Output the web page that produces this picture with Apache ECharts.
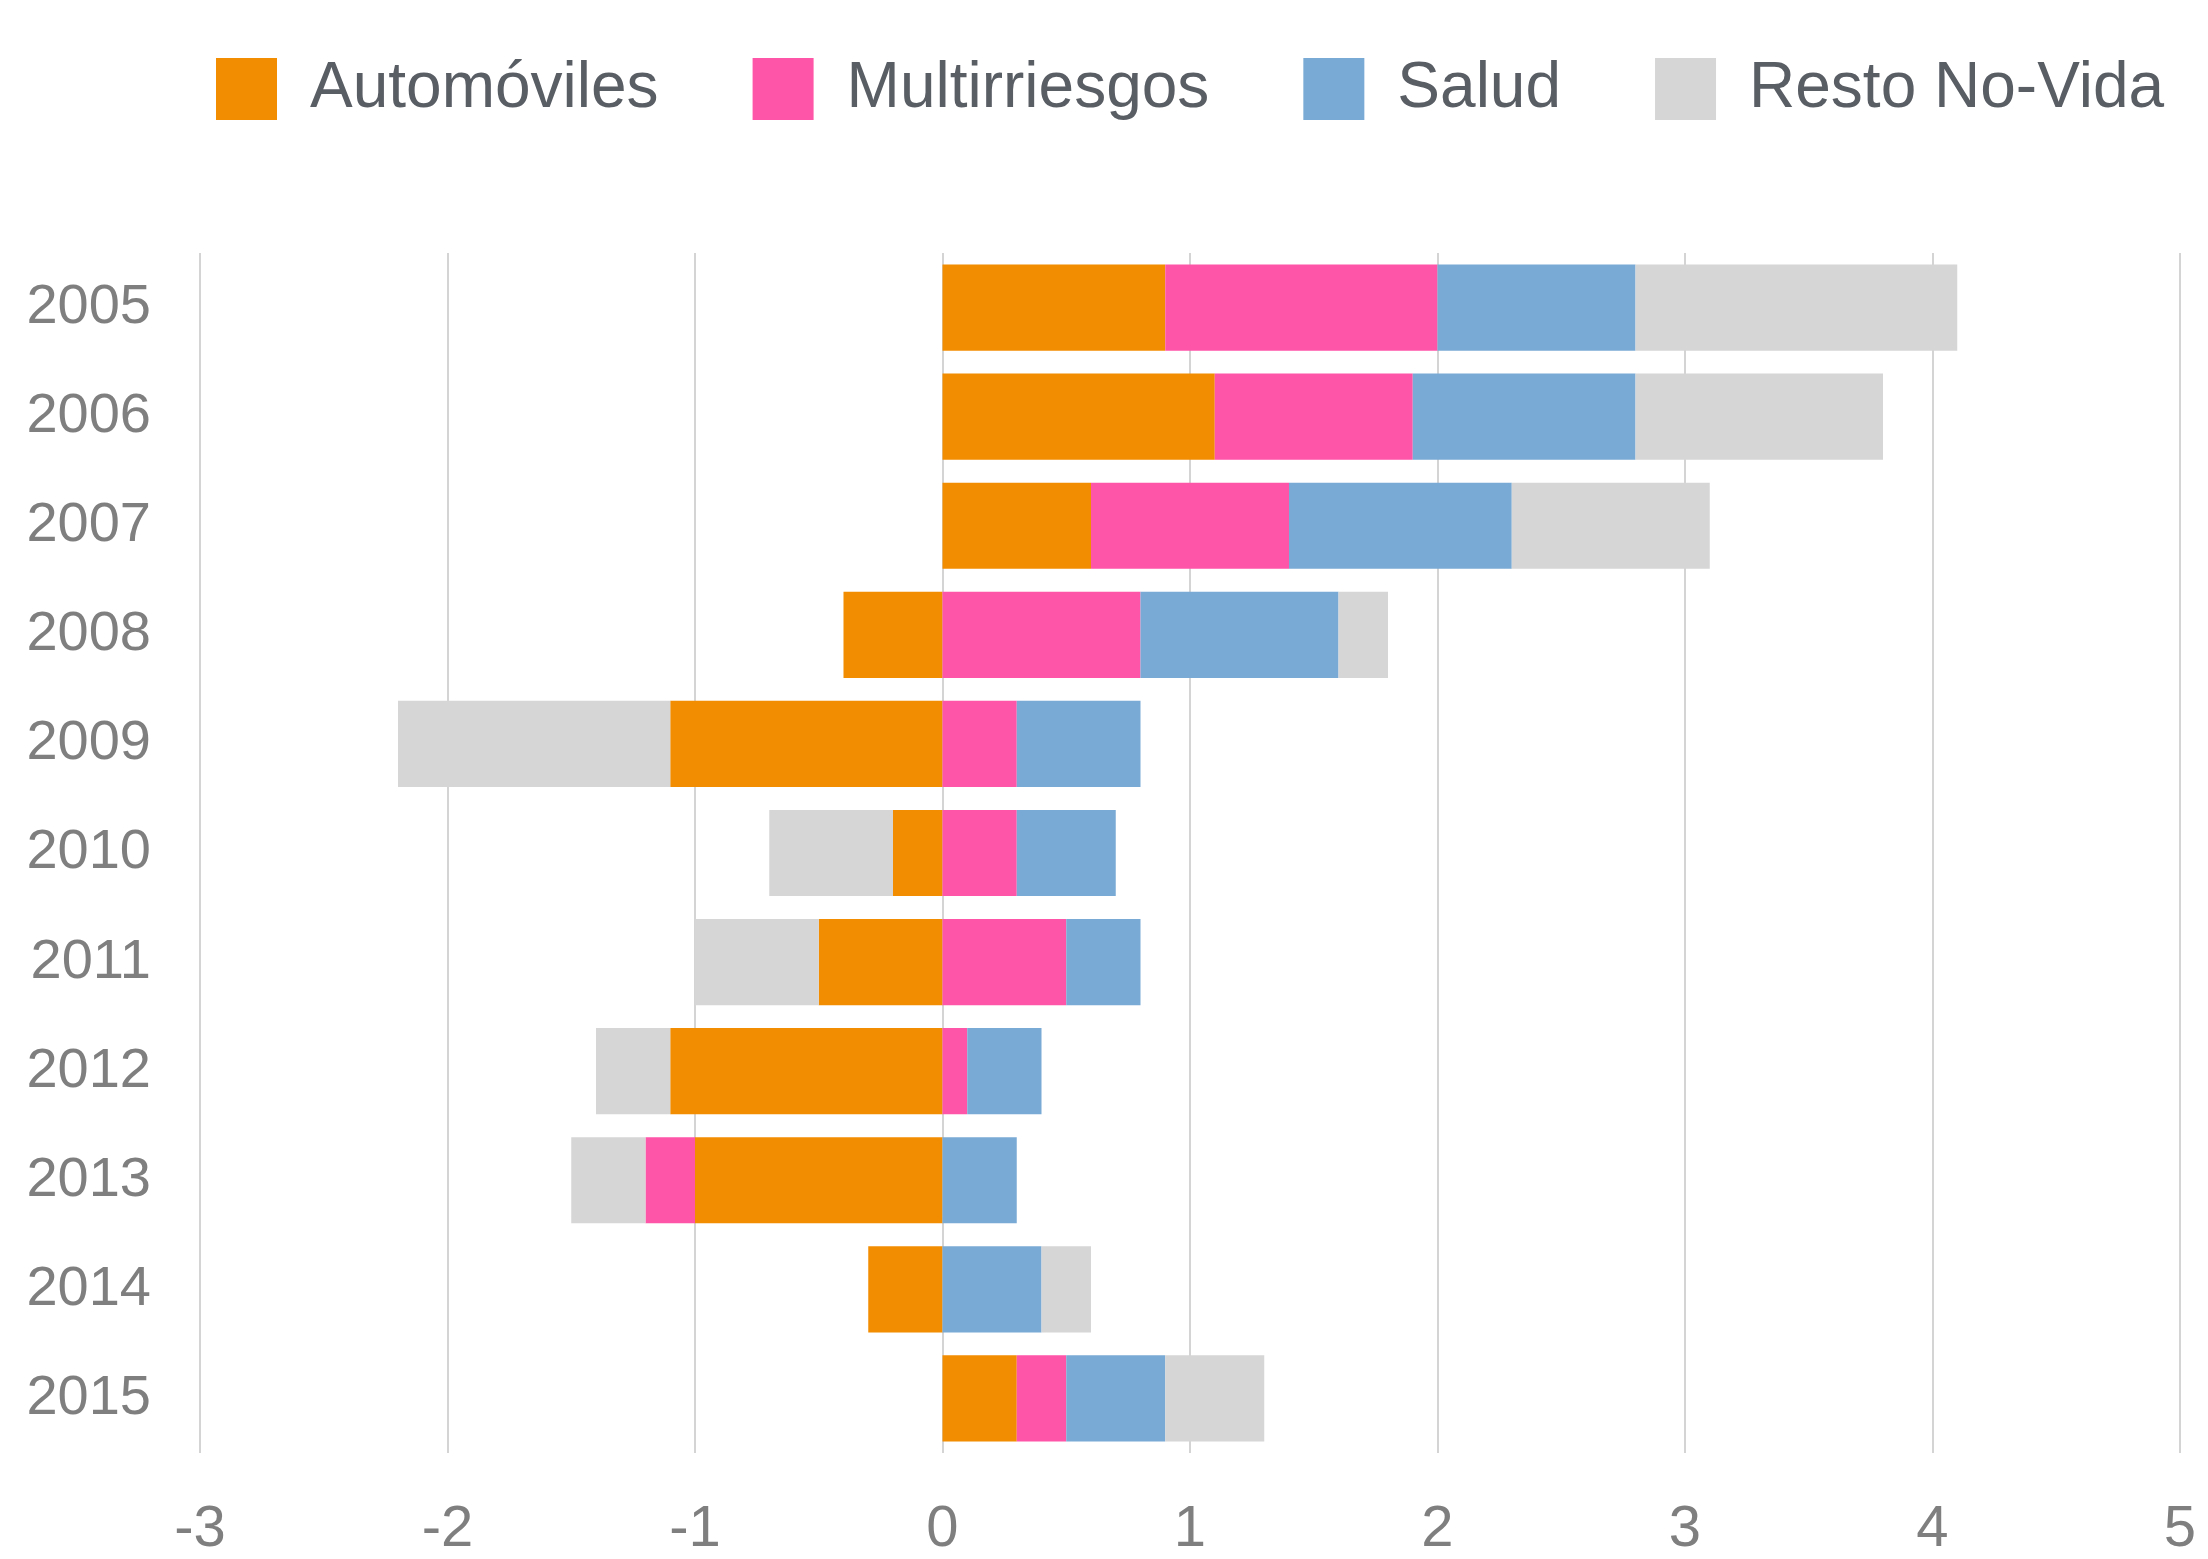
<!DOCTYPE html>
<html>
<head>
<meta charset="utf-8">
<script src="https://cdn.jsdelivr.net/npm/echarts@6/dist/echarts.min.js"></script>
<style>
  html, body { margin: 0; padding: 0; background: #fff; }
  #chart { width: 2208px; height: 1559px; }
</style>
</head>
<body>
<div id="chart"></div>
<script>
const years = ['2005', '2006', '2007', '2008', '2009', '2010', '2011', '2012', '2013', '2014', '2015']
const automoviles = [0.9, 1.1, 0.6, -0.4, -1.1, -0.2, -0.5, -1.1, -1.0, -0.3, 0.3]
const multirriesgos = [1.1, 0.8, 0.8, 0.8, 0.3, 0.3, 0.5, 0.1, -0.2, 0, 0.2]
const salud = [0.8, 0.9, 0.9, 0.8, 0.5, 0.4, 0.3, 0.3, 0.3, 0.4, 0.4]
const restoNoVida = [1.3, 1.0, 0.8, 0.2, -1.1, -0.5, -0.5, -0.3, -0.3, 0.2, 0.4]
const xTicks = [-3, -2, -1, 0, 1, 2, 3, 4, 5]

const names = ['Automóviles', 'Multirriesgos', 'Salud', 'Resto No-Vida']
const colors = ['#F28C00', '#FF55A8', '#78AAD5', '#D6D6D6']
const values = [automoviles, multirriesgos, salud, restoNoVida]

const chart = echarts.init(document.getElementById('chart'))

chart.setOption({
  animation: false,
  color: colors,
  legend: {
    left: 211,
    top: 52,
    itemWidth: 61,
    itemHeight: 62,
    itemGap: 94,
    icon: 'rect',
    textStyle: {
      fontFamily: 'Liberation Sans',
      fontSize: 64,
      color: '#595d64',
      padding: [0, 0, 0, 28]
    },
    data: names
  },
  grid: {
    left: 200,
    right: 28,
    top: 253,
    bottom: 95
  },
  xAxis: {
    type: 'value',
    min: xTicks[0],
    max: xTicks[xTicks.length - 1],
    interval: 1,
    axisLine: { show: false },
    axisTick: { show: false },
    splitLine: { lineStyle: { color: '#d4d4d4', width: 2 } },
    axisLabel: {
      fontFamily: 'Liberation Sans',
      fontSize: 58,
      color: '#7f7f7f',
      margin: 48
    }
  },
  yAxis: {
    type: 'category',
    inverse: true,
    data: years,
    axisLine: { show: false },
    axisTick: { show: false },
    axisLabel: {
      fontFamily: 'Liberation Sans',
      fontSize: 56,
      color: '#7f7f7f',
      margin: 49
    }
  },
  series: names.map((name, i) => ({
    name: name,
    type: 'bar',
    stack: 'total',
    barCategoryGap: '21%',
    data: values[i]
  }))
})
</script>
</body>
</html>
